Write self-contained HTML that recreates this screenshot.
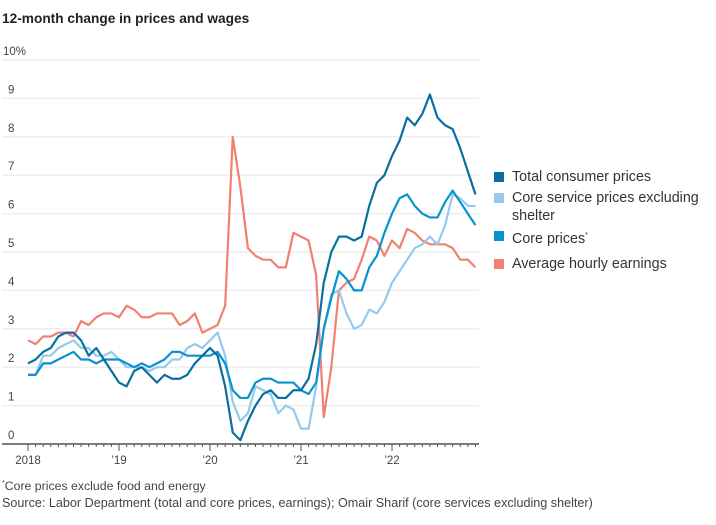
<!DOCTYPE html>
<html><head><meta charset="utf-8"><style>
body{margin:0;background:#fff;font-family:"Liberation Sans",sans-serif;}
#wrap{position:relative;width:716px;height:525px;overflow:hidden;}
.t{position:absolute;}
</style></head><body>
<div id="wrap">
<div class="t" style="left:2px;top:11px;font-size:13.7px;font-weight:bold;color:#222;">12-month change in prices and wages</div>
<svg id="svg" width="716" height="525" style="position:absolute;left:0;top:0"></svg>
<div class="t" style="left:494px;top:168px;font-size:14.3px;color:#333;line-height:18px;">
<div style="position:absolute;top:0;width:210px;"><span style="position:absolute;left:0;top:4px;width:10px;height:10px;background:#0a6fa0"></span><span style="position:absolute;left:18px;white-space:nowrap">Total consumer prices</span></div>
<div style="position:absolute;top:21px;width:215px;"><span style="position:absolute;left:0;top:4px;width:10px;height:10px;background:#95c9ee"></span><span style="position:absolute;left:18px;white-space:nowrap">Core service prices excluding<br>shelter</span></div>
<div style="position:absolute;top:59px;width:210px;"><span style="position:absolute;left:0;top:4px;width:10px;height:10px;background:#0892d0"></span><span style="position:absolute;left:18px;white-space:nowrap">Core prices<sup style="font-size:7px">*</sup></span></div>
<div style="position:absolute;top:87px;width:210px;"><span style="position:absolute;left:0;top:4px;width:10px;height:10px;background:#f0806f"></span><span style="position:absolute;left:18px;white-space:nowrap">Average hourly earnings</span></div>
</div>
<div class="t" style="left:2px;top:479px;font-size:12.3px;color:#444;"><sup style="font-size:7px">*</sup>Core prices exclude food and energy</div>
<div class="t" style="left:2px;top:496px;font-size:12.6px;color:#444;">Source: Labor Department (total and core prices, earnings); Omair Sharif (core services excluding shelter)</div>
</div>
<script>
const yTicks=[0,1,2,3,4,5,6,7,8,9,10];
const xYears=["2018","’19","’20","’21","’22"];
const total=[2.1,2.2,2.4,2.5,2.8,2.9,2.9,2.7,2.3,2.5,2.2,1.9, 1.6,1.5,1.9,2.0,1.8,1.6,1.8,1.7,1.7,1.8,2.1,2.3, 2.5,2.3,1.5,0.3,0.1,0.6,1.0,1.3,1.4,1.2,1.2,1.4, 1.4,1.7,2.6,4.2,5.0,5.4,5.4,5.3,5.4,6.2,6.8,7.0, 7.5,7.9,8.5,8.3,8.6,9.1,8.5,8.3,8.2,7.7,7.1,6.5];
const coreServices=[1.8,1.8,2.3,2.3,2.5,2.6,2.7,2.5,2.5,2.3,2.3,2.4, 2.2,2.0,2.0,2.0,1.9,2.0,2.0,2.2,2.2,2.5,2.6,2.5, 2.7,2.9,2.3,1.1,0.6,0.8,1.5,1.4,1.3,0.8,1.0,0.9, 0.4,0.4,1.5,3.0,3.9,4.0,3.4,3.0,3.1,3.5,3.4,3.7, 4.2,4.5,4.8,5.1,5.2,5.4,5.2,5.7,6.5,6.4,6.2,6.2];
const core=[1.8,1.8,2.1,2.1,2.2,2.3,2.4,2.2,2.2,2.1,2.2,2.2, 2.2,2.1,2.0,2.1,2.0,2.1,2.2,2.4,2.4,2.3,2.3,2.3, 2.3,2.4,2.1,1.4,1.2,1.2,1.6,1.7,1.7,1.6,1.6,1.6, 1.4,1.3,1.6,3.0,3.8,4.5,4.3,4.0,4.0,4.6,4.9,5.5, 6.0,6.4,6.5,6.2,6.0,5.9,5.9,6.3,6.6,6.3,6.0,5.7];
const earnings=[2.7,2.6,2.8,2.8,2.9,2.9,2.8,3.2,3.1,3.3,3.4,3.4, 3.3,3.6,3.5,3.3,3.3,3.4,3.4,3.4,3.1,3.2,3.4,2.9, 3.0,3.1,3.6,8.0,6.7,5.1,4.9,4.8,4.8,4.6,4.6,5.5, 5.4,5.3,4.4,0.7,2.0,4.0,4.2,4.3,4.8,5.4,5.3,4.9, 5.3,5.1,5.6,5.5,5.3,5.2,5.2,5.2,5.1,4.8,4.8,4.6];
const NS="http://www.w3.org/2000/svg";
const svg=document.getElementById('svg');
function x(i){return 28+i*(91/12);}
function y(v){return 444-v*38.4;}
function mk(t,a){const e=document.createElementNS(NS,t);for(const k in a)e.setAttribute(k,a[k]);svg.appendChild(e);return e;}
yTicks.forEach(v=>{
 const g=mk('line',{x1:2,x2:479,y1:y(v),y2:y(v),stroke:'#eeeeee','stroke-width':1.5});
 
 
 const t=mk('text',{x:v==10?3:8,y:y(v)-5,'font-size':11.5,fill:'#444','font-family':'Liberation Sans, sans-serif'});
 t.textContent=v==10?'10%':String(v);
 
 
});
const ax=mk('line',{x1:2,x2:479,y1:444,y2:444,stroke:'#555','stroke-width':1.5});


for(let i=0;i<60;i++){
 const major=i%12==0;
 const tk=mk('line',{x1:x(i),x2:x(i),y1:444,y2:major?451:447,stroke:'#555','stroke-width':1});
 
 
}
xYears.forEach((s,k)=>{
 const t=mk('text',{x:x(k*12),y:464,'font-size':11.5,fill:'#444','text-anchor':'middle','font-family':'Liberation Sans, sans-serif'});
 t.textContent=s;
 
 
});
function line(d,c,name){
 const p=mk('polyline',{points:d.map((v,i)=>x(i)+','+y(v)).join(' '),fill:'none',stroke:c,'stroke-width':2.2,'stroke-linejoin':'round'});
 
 
}
line(earnings,'#f0806f','line-average-hourly-earnings');
line(coreServices,'#95c9ee','line-core-services-ex-shelter');
line(core,'#0892d0','line-core-prices');
line(total,'#0a6fa0','line-total-consumer-prices');
</script>
</body></html>
